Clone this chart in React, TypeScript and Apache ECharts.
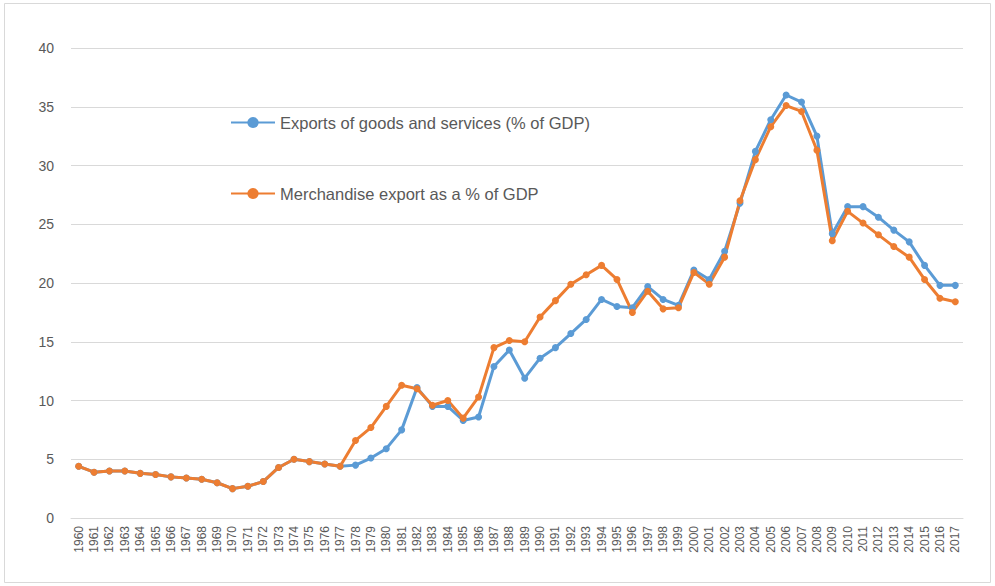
import React, { useEffect, useRef } from "react";
import * as echarts from "echarts";

const years: string[] = [];
for (let y = 1960; y <= 2017; y++) years.push(String(y));

const exportsGoodsServices = [
  4.4, 3.9, 4.0, 4.0, 3.8, 3.7, 3.5, 3.4, 3.3, 3.0,
  2.5, 2.7, 3.1, 4.3, 5.0, 4.8, 4.6, 4.4, 4.5, 5.1,
  5.9, 7.5, 11.1, 9.5, 9.5, 8.3, 8.6, 12.9, 14.3, 11.9,
  13.6, 14.5, 15.7, 16.9, 18.6, 18.0, 17.9, 19.7, 18.6, 18.1,
  21.1, 20.3, 22.7, 26.8, 31.2, 33.9, 36.0, 35.4, 32.5, 24.2,
  26.5, 26.5, 25.6, 24.5, 23.5, 21.5, 19.8, 19.8,
];

const merchandiseExport = [
  4.4, 3.9, 4.0, 4.0, 3.8, 3.7, 3.5, 3.4, 3.3, 3.0,
  2.5, 2.7, 3.1, 4.3, 5.0, 4.8, 4.6, 4.4, 6.6, 7.7,
  9.5, 11.3, 11.0, 9.6, 10.0, 8.5, 10.3, 14.5, 15.1, 15.0,
  17.1, 18.5, 19.9, 20.7, 21.5, 20.3, 17.5, 19.3, 17.8, 17.9,
  20.9, 19.9, 22.2, 27.0, 30.5, 33.3, 35.1, 34.6, 31.3, 23.6,
  26.1, 25.1, 24.1, 23.1, 22.2, 20.3, 18.7, 18.4,
];

const seriesNames = [
  "Exports of goods and services (% of GDP)",
  "Merchandise export as a % of GDP",
];

export default function App() {
  const ref = useRef<HTMLDivElement>(null);
  useEffect(() => {
    if (!ref.current) return;
    const chart = echarts.init(ref.current, undefined, { renderer: "svg" });
    const font = "'Liberation Sans', Arial, sans-serif";
    chart.setOption({
      animation: false,
      backgroundColor: "#ffffff",
      textStyle: { fontFamily: font },
      graphic: [
        {
          type: "rect",
          shape: { x: 4.5, y: 3.5, width: 986, height: 579 },
          style: { fill: "none", stroke: "#D9D9D9", lineWidth: 1 },
          silent: true,
        },
      ],
      legend: {
        orient: "vertical",
        left: 225,
        top: 109,
        itemWidth: 44,
        itemHeight: 14,
        itemGap: 54,
        textStyle: { color: "#595959", fontSize: 16.5, fontFamily: font },
        data: seriesNames,
      },
      grid: { left: 71, right: 32, top: 48, bottom: 68, containLabel: false },
      xAxis: {
        type: "category",
        data: years,
        boundaryGap: true,
        axisLine: { show: true, lineStyle: { color: "#D9D9D9" } },
        axisTick: { show: false },
        axisLabel: {
          interval: 0,
          rotate: 90,
          color: "#595959",
          fontSize: 12,
          margin: 8,
          fontFamily: font,
        },
      },
      yAxis: {
        type: "value",
        min: 0,
        max: 40,
        interval: 5,
        axisLine: { show: false },
        axisTick: { show: false },
        axisLabel: { color: "#595959", fontSize: 14, margin: 17, fontFamily: font },
        splitLine: { lineStyle: { color: "#D9D9D9", width: 1 } },
      },
      series: [
        {
          name: seriesNames[0],
          type: "line",
          data: exportsGoodsServices,
          symbol: "circle",
          symbolSize: 7,
          itemStyle: { color: "#5B9BD5" },
          lineStyle: { color: "#5B9BD5", width: 3 },
        },
        {
          name: seriesNames[1],
          type: "line",
          data: merchandiseExport,
          symbol: "circle",
          symbolSize: 7,
          itemStyle: { color: "#ED7D31" },
          lineStyle: { color: "#ED7D31", width: 3 },
        },
      ],
    });
    return () => chart.dispose();
  }, []);
  return (
    <div
      ref={ref}
      style={{ position: "fixed", left: 0, top: 0, width: 995, height: 586 }}
    />
  );
}
